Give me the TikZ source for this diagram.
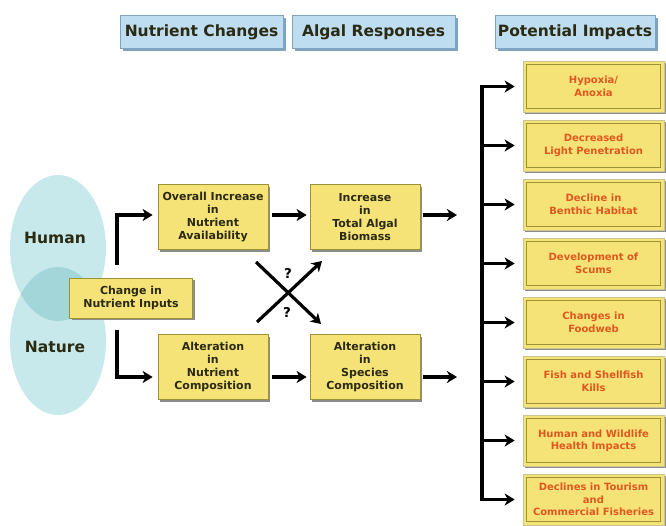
\documentclass[tikz,border=0pt]{standalone}
\usepackage{fontspec}
\setmainfont{DejaVu Sans}
\usetikzlibrary{arrows.meta,shadows,calc}
\definecolor{yfill}{HTML}{F6E377}
\definecolor{yedge}{HTML}{9E9238}
\definecolor{bfill}{HTML}{BEDDF0}
\definecolor{bedge}{HTML}{7DA4C2}
\definecolor{efill}{HTML}{C8E9EB}
\definecolor{eover}{HTML}{A3D6D8}
\definecolor{itext}{HTML}{E0581E}
\definecolor{dtext}{HTML}{2B2A12}
\tikzset{
 hdr/.style={fill=bfill, draw=bedge, line width=0.6pt, minimum width=163pt, minimum height=33pt, inner sep=0pt,
   font=\bfseries\fontsize{15.5}{18}\selectfont, text=dtext,
   drop shadow={shadow xshift=2.5pt, shadow yshift=-2.5pt, fill=bedge, opacity=1}},
 ybox/.style={fill=yfill, draw=yedge, line width=0.7pt, minimum width=110pt, minimum height=65pt, inner sep=0pt,
   align=center, font=\bfseries\fontsize{11}{13}\selectfont, text=dtext,
   drop shadow={shadow xshift=2pt, shadow yshift=-2pt, fill=black!45, opacity=1}},
 ibox/.style={ybox, minimum width=141pt, minimum height=51pt, text=itext, draw=yedge!55,
   font=\bfseries\fontsize{10}{12.5}\selectfont,
   path picture={\draw[yedge, line width=0.7pt] ([shift={(3.5pt,3.5pt)}]path picture bounding box.south west) rectangle ([shift={(-3.5pt,-3.5pt)}]path picture bounding box.north east);}},
 arr/.style={line width=3.2pt, -{Stealth[length=10pt,width=12pt,inset=3pt]}},
 elabel/.style={font=\bfseries\fontsize{15.5}{18}\selectfont, text=dtext},
 qlabel/.style={font=\bfseries\fontsize{13.5}{16}\selectfont, text=black},
}
\begin{document}
\begin{tikzpicture}[x=1pt,y=-1pt]
\useasboundingbox (0,0) rectangle (666,525);
% headers
\node[hdr] (h1) at (201.5,32) {Nutrient Changes};
\node[hdr] (h2) at (373.5,32) {Algal Responses};
\node[hdr, minimum width=160pt] (h3) at (575,32) {Potential Impacts};
% ellipses
\fill[efill] (58,248) ellipse [x radius=48pt, y radius=73pt];
\fill[efill] (58,341) ellipse [x radius=48pt, y radius=74pt];
\begin{scope}
 \clip (58,248) ellipse [x radius=48pt, y radius=73pt];
 \fill[eover] (58,341) ellipse [x radius=48pt, y radius=74pt];
\end{scope}
\node[elabel] (human) at (55,238) {Human};
\node[elabel] (nature) at (55,347) {Nature};
% boxes
\node[ybox, minimum width=123pt, minimum height=40pt] (chg) at (131,298) {Change in\\Nutrient Inputs};
\node[ybox] (oi) at (213,217) {Overall Increase\\in\\Nutrient\\Availability};
\node[ybox] (ta) at (365,217) {Increase\\in\\Total Algal\\Biomass};
\node[ybox] (nc) at (213,367) {Alteration\\in\\Nutrient\\Composition};
\node[ybox] (sp) at (365,367) {Alteration\\in\\Species\\Composition};
% impacts
\node[ibox] (i1) at (593.5,86.5) {Hypoxia/\\Anoxia};
\node[ibox] (i2) at (593.5,145.5) {Decreased\\Light Penetration};
\node[ibox] (i3) at (593.5,204.5) {Decline in\\Benthic Habitat};
\node[ibox] (i4) at (593.5,263.5) {Development of\\Scums};
\node[ibox] (i5) at (593.5,322.5) {Changes in\\Foodweb};
\node[ibox] (i6) at (593.5,381.5) {Fish and Shellfish\\Kills};
\node[ibox] (i7) at (593.5,440.5) {Human and Wildlife\\Health Impacts};
\node[ibox] (i8) at (593.5,499.5) {Declines in Tourism\\and\\Commercial Fisheries};
% helper coordinates
\coordinate (lx) at (117,0);
\coordinate (rowA) at (0,215);
\coordinate (rowB) at (0,377);
\coordinate (outA) at (457,215);
\coordinate (outB) at (457,377);
\coordinate (bx) at (482,0);
\coordinate (c1s) at (256,262);
\coordinate (c1e) at (321,324);
\coordinate (c2s) at (257,322);
\coordinate (c2e) at (322,261);
% connectors
\draw[arr, shorten <=13pt, shorten >=5pt] (chg.north -| lx) |- (oi.west |- rowA);
\draw[arr, shorten <=12pt, shorten >=5pt] (chg.south -| lx) |- (nc.west |- rowB);
\draw[arr, shorten <=4pt, shorten >=3pt] (oi.east |- rowA) -- (ta.west |- rowA);
\draw[arr, shorten <=4pt, shorten >=3pt] (nc.east |- rowB) -- (sp.west |- rowB);
\draw[arr, shorten <=3pt] (ta.east |- rowA) -- (outA);
\draw[arr, shorten <=3pt] (sp.east |- rowB) -- (outB);
\draw[arr] (c1s) -- (c1e);
\draw[arr] (c2s) -- (c2e);
\node[qlabel] (q1) at (288,273) {?};
\node[qlabel] (q2) at (287,312) {?};
\draw[line width=3.2pt] ([yshift=1.6pt]i1.west -| bx) -- ([yshift=-1.6pt]i8.west -| bx);
\foreach \i in {1,...,8}{
  \draw[arr, shorten >=8pt] (i\i.west -| bx) -- (i\i.west);
}
\end{tikzpicture}
\end{document}
